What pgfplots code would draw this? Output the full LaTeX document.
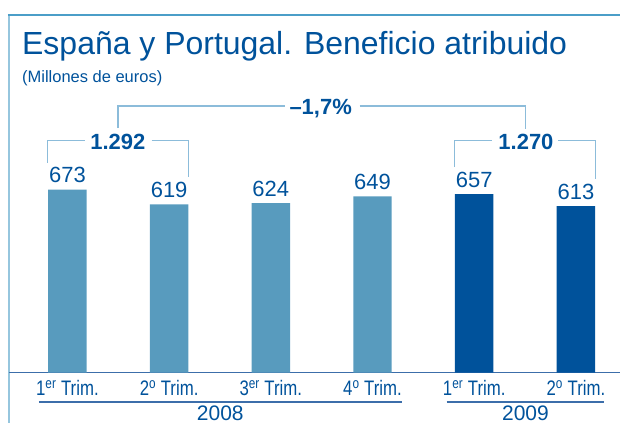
\documentclass[border=0pt]{standalone}
\usepackage{pgfplots}
\pgfplotsset{compat=1.18}
\usepackage{fontspec}
\setmainfont{Liberation Sans}
\newfontfamily\narrow[FakeStretch=0.8]{Liberation Sans}
\definecolor{txtblue}{RGB}{0,82,155}
\definecolor{barlight}{RGB}{88,155,190}
\definecolor{bardark}{RGB}{0,82,155}
\definecolor{brk}{RGB}{140,188,218}
\definecolor{frametop}{RGB}{75,158,200}
\definecolor{frameleft}{RGB}{150,198,222}
\definecolor{axisc}{RGB}{60,110,170}
\begin{document}
\begin{tikzpicture}[x=1pt,y=1pt]
\path (0,0) rectangle (621,423);
% frame
\draw[frameleft, line width=2pt] (9,0) -- (9,408);
\draw[frametop, line width=1.3pt] (8,408) -- (621,408);
% titles
\node[anchor=base west, inner sep=0pt, text=txtblue, font=\fontsize{32}{38}\selectfont] at (22,368) {España y Portugal. Beneficio atribuido};
\node[anchor=base west, inner sep=0pt, text=txtblue, font=\fontsize{16.5}{20}\selectfont] at (22,340) {(Millones de euros)};

\begin{axis}[
  at={(67.5pt,50pt)}, anchor=origin,
  scale only axis, width=612pt, height=326.4pt,
  xmin=-0.5747, xmax=5.437, ymin=0, ymax=1200,
  axis x line=bottom, axis y line=none,
  axis line style={draw=axisc, line width=1.2pt, -},
  xtick={0,1,2,3,4,5},
  xticklabels={1\textsuperscript{er} Trim., 2\textsuperscript{o} Trim., 3\textsuperscript{er} Trim., 4\textsuperscript{o} Trim., 1\textsuperscript{er} Trim., 2\textsuperscript{o} Trim.},
  xticklabel style={font=\narrow\fontsize{21}{24}\selectfont, text=txtblue, anchor=base, inner sep=0pt, yshift=-23pt},
  major tick length=0pt,
  ytick=\empty,
  clip=false,
  /pgf/number format/assume math mode=true,
  nodes near coords,
  every node near coord/.append style={font=\fontsize{22}{26}\selectfont, text=txtblue, anchor=base, inner sep=0pt, yshift=7pt},
]
\addplot[ybar, bar width=38.5pt, fill=barlight, draw=none] coordinates {(0,673) (1,619) (2,624) (3,649)};
\addplot[ybar, bar width=38.5pt, fill=bardark, draw=none] coordinates {(4,657) (5,613)};
\end{axis}

% year underlines and labels
\draw[axisc, line width=1.2pt] (39,20.5) -- (402,20.5);
\draw[axisc, line width=1.2pt] (447,20.5) -- (605,20.5);
\node[anchor=base, inner sep=0pt, text=txtblue, font=\fontsize{21}{24}\selectfont] at (220.5,2.5) {2008};
\node[anchor=base, inner sep=0pt, text=txtblue, font=\fontsize{21}{24}\selectfont] at (526,2.5) {2009};

% brackets
\draw[brk, line width=1.3pt] (47.3,260.3) -- (47.3,282.3) -- (85,282.3);
\draw[brk, line width=1.3pt] (151.7,282.3) -- (188.7,282.3) -- (188.7,245.7);
\node[anchor=base, inner sep=0pt, text=txtblue, font=\bfseries\fontsize{22}{26}\selectfont] at (118,273.7) {1.292};

\draw[brk, line width=1.3pt] (118,294.7) -- (118,317) -- (285,317);
\draw[brk, line width=1.3pt] (360,317) -- (526,317) -- (526,293.7);
\node[anchor=base, inner sep=0pt, text=txtblue, font=\bfseries\fontsize{22}{26}\selectfont] at (321,308) {–1,7\%};

\draw[brk, line width=1.3pt] (455.3,255.7) -- (455.3,282.3) -- (493,282.3);
\draw[brk, line width=1.3pt] (559,282.3) -- (596,282.3) -- (596,244);
\node[anchor=base, inner sep=0pt, text=txtblue, font=\bfseries\fontsize{22}{26}\selectfont] at (526.5,273.7) {1.270};
\end{tikzpicture}
\end{document}
